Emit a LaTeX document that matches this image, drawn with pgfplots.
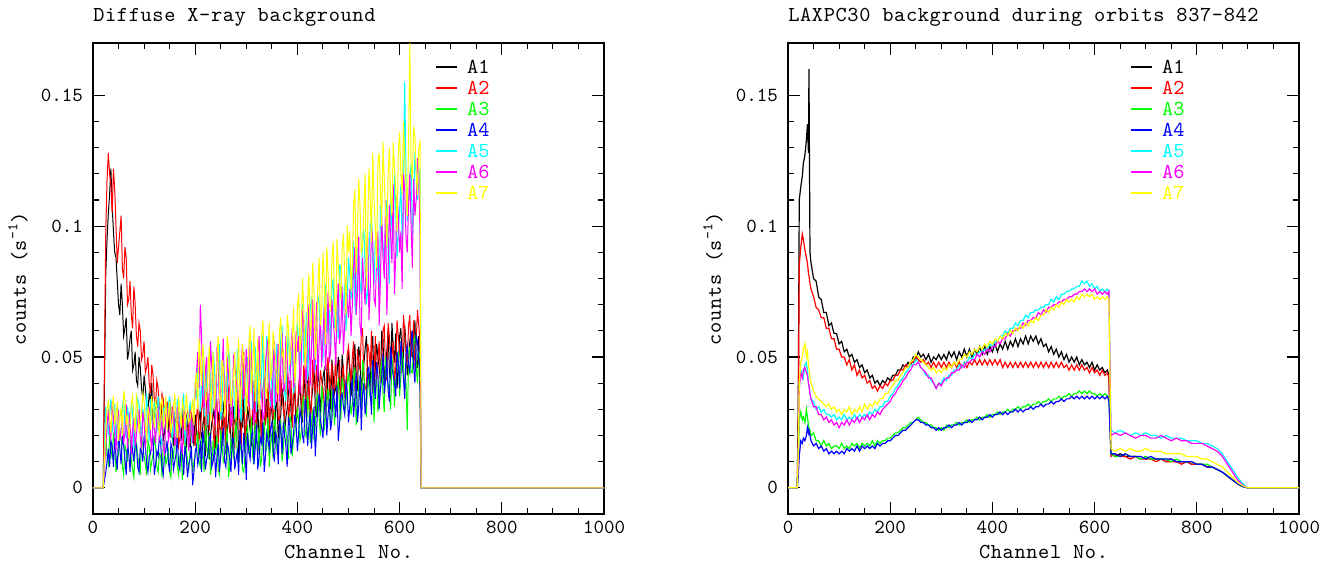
\documentclass[border=0pt]{standalone}
\usepackage{fontspec}
\usepackage{pgfplots}
\usepackage{pgfplotstable}
\pgfplotsset{compat=1.18}
\newfontfamily\hfont{lmmono10-regular.otf}[LetterSpace=3]
\newfontfamily\tfont{lmmono10-regular.otf}
\definecolor{cA}{rgb}{0,0,0}
\definecolor{cB}{rgb}{1,0,0}
\definecolor{cC}{rgb}{0,1,0}
\definecolor{cD}{rgb}{0,0,1}
\definecolor{cE}{rgb}{0,1,1}
\definecolor{cF}{rgb}{1,0,1}
\definecolor{cG}{rgb}{1,1,0}

\pgfplotstableread{
x a b c d e f g
0 0 0 0 0 0 0 0
20 0 0 0 0 0 0 0
25 0.082 0.098 0.020 0.006 0.031 0.016 0.022
27.5 0.095 0.118 0.012 0.010 0.026 0.024 0.030
30 0.105 0.128 0.009 0.015 0.020 0.030 0.033
32.5 0.112 0.120 0.019 0.008 0.029 0.021 0.027
35 0.122 0.116 0.016 0.018 0.034 0.019 0.021
37.5 0.108 0.105 0.011 0.016 0.021 0.033 0.031
40 0.098 0.122 0.021 0.008 0.026 0.026 0.035
42.5 0.090 0.114 0.017 0.019 0.032 0.020 0.024
45 0.088 0.100 0.006 0.012 0.016 0.014 0.028
47.5 0.079 0.086 0.010 0.007 0.024 0.027 0.033
50 0.070 0.092 0.013 0.021 0.030 0.029 0.018
52.5 0.066 0.098 0.022 0.015 0.018 0.018 0.026
55 0.078 0.104 0.019 0.009 0.022 0.022 0.031
57.5 0.070 0.084 0.008 0.020 0.030 0.028 0.020
60 0.058 0.080 0.005 0.016 0.035 0.017 0.037
62.5 0.061 0.092 0.016 0.011 0.023 0.021 0.034
65 0.065 0.088 0.014 0.005 0.019 0.032 0.024
67.5 0.049 0.070 0.010 0.017 0.031 0.015 0.028
70 0.052 0.072 0.022 0.013 0.027 0.024 0.019
72.5 0.057 0.079 0.019 0.006 0.020 0.029 0.023
75 0.060 0.066 0.011 0.019 0.033 0.013 0.032
77.5 0.045 0.061 0.007 0.014 0.029 0.022 0.035
80 0.047 0.077 0.004 0.010 0.015 0.027 0.027
82.5 0.052 0.070 0.015 0.018 0.021 0.016 0.021
85 0.041 0.058 0.017 0.016 0.025 0.020 0.036
87.5 0.039 0.054 0.012 0.008 0.034 0.026 0.030
90 0.050 0.063 0.009 0.006 0.032 0.030 0.021
92.5 0.046 0.060 0.005 0.015 0.024 0.019 0.026
95 0.038 0.049 0.020 0.014 0.020 0.015 0.029
97.5 0.034 0.051 0.016 0.010 0.030 0.029 0.036
100 0.043 0.056 0.012 0.020 0.028 0.025 0.033
102.5 0.038 0.044 0.009 0.016 0.017 0.016 0.024
105 0.032 0.046 0.005 0.009 0.036 0.019 0.018
107.5 0.029 0.050 0.018 0.006 0.027 0.024 0.031
110 0.036 0.040 0.016 0.012 0.018 0.031 0.028
112.5 0.033 0.036 0.007 0.013 0.034 0.020 0.022
115 0.040 0.047 0.010 0.017 0.026 0.014 0.035
117.5 0.026 0.043 0.013 0.019 0.022 0.027 0.029
120 0.027 0.034 0.019 0.005 0.033 0.023 0.023
122.5 0.031 0.032 0.016 0.009 0.028 0.017 0.034
125 0.033 0.041 0.008 0.014 0.021 0.028 0.030
127.5 0.023 0.038 0.006 0.012 0.035 0.030 0.025
130 0.024 0.030 0.013 0.020 0.029 0.018 0.020
132.5 0.028 0.026 0.012 0.017 0.019 0.022 0.032
135 0.031 0.036 0.004 0.008 0.016 0.026 0.034
137.5 0.018 0.034 0.017 0.005 0.030 0.016 0.023
140 0.021 0.027 0.018 0.013 0.031 0.012 0.027
142.5 0.026 0.025 0.009 0.014 0.023 0.028 0.035
145 0.029 0.033 0.011 0.018 0.024 0.030 0.022
147.5 0.021 0.029 0.014 0.010 0.032 0.018 0.028
150 0.034 0.024 0.006 0.006 0.035 0.021 0.033
152.5 0.027 0.019 0.004 0.017 0.022 0.024 0.021
155 0.020 0.031 0.015 0.015 0.019 0.027 0.025
157.5 0.016 0.027 0.011 0.007 0.030 0.032 0.031
160 0.027 0.022 0.020 0.010 0.027 0.016 0.036
162.5 0.024 0.024 0.016 0.013 0.020 0.019 0.026
165 0.017 0.028 0.008 0.019 0.034 0.031 0.019
167.5 0.029 0.016 0.005 0.009 0.031 0.026 0.035
170 0.025 0.019 0.012 0.007 0.022 0.022 0.029
172.5 0.018 0.024 0.014 0.017 0.025 0.017 0.023
175 0.031 0.026 0.003 0.013 0.030 0.013 0.033
177.5 0.023 0.018 0.009 0.005 0.036 0.030 0.030
180 0.019 0.021 0.017 0.016 0.017 0.027 0.022
182.5 0.014 0.027 0.015 0.012 0.022 0.023 0.036
185 0.026 0.029 0.010 0.004 0.028 0.020 0.031
187.5 0.027 0.020 0.007 0.009 0.027 0.014 0.025
190 0.015 0.018 0.014 0.011 0.033 0.030 0.026
192.5 0.020 0.029 0.013 0.016 0.018 0.025 0.030
195 0.023 0.025 0.006 0.001 0.020 0.017 0.034
197.5 0.016 0.021 0.010 0.006 0.032 0.029 0.024
200 0.028 0.016 0.012 0.014 0.038 0.036 0.040
202.5 0.022 0.027 0.015 0.016 0.034 0.044 0.044
205 0.017 0.032 0.021 0.009 0.046 0.052 0.030
207.5 0.026 0.018 0.010 0.012 0.052 0.038 0.057
210 0.030 0.022 0.008 0.018 0.029 0.070 0.048
212.5 0.014 0.029 0.019 0.006 0.038 0.058 0.039
215 0.024 0.036 0.015 0.022 0.050 0.034 0.055
217.5 0.029 0.024 0.006 0.016 0.027 0.030 0.048
220 0.012 0.019 0.024 0.007 0.036 0.045 0.033
222.5 0.020 0.037 0.017 0.011 0.046 0.050 0.034
225 0.034 0.028 0.011 0.013 0.024 0.028 0.044
227.5 0.011 0.022 0.021 0.019 0.032 0.036 0.054
230 0.020 0.040 0.005 0.020 0.044 0.056 0.026
232.5 0.025 0.030 0.009 0.008 0.028 0.046 0.040
235 0.027 0.023 0.018 0.010 0.052 0.040 0.052
237.5 0.031 0.015 0.014 0.015 0.047 0.032 0.030
240 0.015 0.031 0.013 0.004 0.031 0.024 0.038
242.5 0.019 0.034 0.020 0.012 0.039 0.054 0.050
245 0.029 0.017 0.007 0.017 0.040 0.049 0.058
247.5 0.024 0.026 0.005 0.006 0.055 0.028 0.036
250 0.021 0.035 0.022 0.012 0.026 0.036 0.029
252.5 0.016 0.019 0.016 0.018 0.030 0.045 0.049
255 0.033 0.024 0.010 0.023 0.048 0.057 0.046
257.5 0.028 0.030 0.012 0.010 0.043 0.033 0.027
260 0.013 0.014 0.017 0.008 0.037 0.030 0.036
262.5 0.021 0.041 0.023 0.017 0.035 0.050 0.058
265 0.026 0.038 0.004 0.015 0.054 0.044 0.054
267.5 0.032 0.021 0.008 0.011 0.049 0.037 0.044
270 0.018 0.027 0.019 0.006 0.029 0.023 0.031
272.5 0.015 0.033 0.015 0.019 0.038 0.027 0.035
275 0.031 0.020 0.012 0.019 0.042 0.051 0.043
277.5 0.025 0.015 0.021 0.007 0.026 0.048 0.052
280 0.022 0.045 0.025 0.011 0.034 0.038 0.025
282.5 0.034 0.038 0.011 0.014 0.052 0.042 0.041
285 0.011 0.029 0.009 0.005 0.050 0.027 0.057
287.5 0.019 0.023 0.017 0.022 0.033 0.031 0.030
290 0.028 0.016 0.014 0.016 0.025 0.047 0.039
292.5 0.023 0.034 0.007 0.009 0.045 0.055 0.055
295 0.035 0.052 0.006 0.021 0.039 0.034 0.048
297.5 0.013 0.019 0.013 0.014 0.029 0.039 0.043
300 0.019 0.024 0.020 0.003 0.046 0.053 0.028
302.5 0.031 0.040 0.024 0.021 0.050 0.043 0.038
305 0.027 0.034 0.013 0.014 0.032 0.031 0.055
307.5 0.022 0.027 0.017 0.011 0.040 0.056 0.062
310 0.016 0.020 0.027 0.020 0.056 0.050 0.036
312.5 0.028 0.032 0.012 0.022 0.030 0.035 0.047
315 0.034 0.041 0.009 0.009 0.040 0.024 0.061
317.5 0.018 0.022 0.025 0.015 0.054 0.029 0.033
320 0.021 0.026 0.018 0.024 0.029 0.045 0.042
322.5 0.033 0.044 0.015 0.007 0.045 0.051 0.057
325 0.013 0.036 0.023 0.012 0.051 0.058 0.030
327.5 0.026 0.028 0.008 0.019 0.034 0.040 0.044
330 0.030 0.018 0.011 0.017 0.044 0.035 0.058
332.5 0.016 0.037 0.022 0.025 0.059 0.026 0.064
335 0.024 0.043 0.026 0.006 0.033 0.028 0.049
337.5 0.029 0.024 0.014 0.012 0.039 0.048 0.038
340 0.036 0.029 0.015 0.021 0.058 0.052 0.034
342.5 0.024 0.040 0.027 0.018 0.048 0.057 0.052
345 0.019 0.022 0.008 0.015 0.038 0.040 0.063
347.5 0.035 0.033 0.017 0.023 0.031 0.035 0.041
350 0.029 0.038 0.021 0.025 0.047 0.030 0.045
352.5 0.023 0.026 0.011 0.014 0.053 0.046 0.060
355 0.017 0.031 0.029 0.010 0.030 0.056 0.054
357.5 0.031 0.039 0.024 0.021 0.045 0.032 0.049
360 0.033 0.045 0.014 0.019 0.055 0.044 0.037
362.5 0.019 0.027 0.016 0.009 0.036 0.055 0.036
365 0.025 0.024 0.019 0.026 0.041 0.033 0.060
367.5 0.028 0.043 0.026 0.022 0.057 0.047 0.065
370 0.038 0.035 0.010 0.013 0.062 0.059 0.050
372.5 0.034 0.030 0.015 0.025 0.043 0.037 0.052
375 0.021 0.027 0.024 0.020 0.036 0.038 0.041
377.5 0.027 0.037 0.022 0.016 0.033 0.058 0.043
380 0.030 0.044 0.016 0.008 0.050 0.049 0.066
382.5 0.036 0.025 0.011 0.027 0.061 0.041 0.061
385 0.041 0.032 0.028 0.024 0.045 0.036 0.047
387.5 0.029 0.041 0.025 0.013 0.047 0.054 0.053
390 0.024 0.023 0.012 0.017 0.059 0.061 0.058
392.5 0.039 0.035 0.019 0.021 0.036 0.038 0.069
395 0.034 0.040 0.021 0.028 0.039 0.042 0.040
397.5 0.025 0.028 0.027 0.024 0.056 0.060 0.048
400 0.028 0.030 0.030 0.014 0.063 0.052 0.069
402.5 0.035 0.039 0.025 0.021 0.054 0.058 0.074
405 0.040 0.046 0.018 0.030 0.046 0.036 0.052
407.5 0.030 0.034 0.021 0.027 0.061 0.047 0.058
410 0.025 0.028 0.032 0.020 0.070 0.068 0.080
412.5 0.044 0.047 0.035 0.017 0.048 0.062 0.068
415 0.036 0.042 0.022 0.034 0.052 0.046 0.046
417.5 0.028 0.026 0.019 0.030 0.067 0.040 0.054
420 0.045 0.033 0.035 0.016 0.041 0.060 0.071
422.5 0.039 0.043 0.031 0.024 0.055 0.070 0.082
425 0.027 0.024 0.017 0.029 0.068 0.039 0.058
427.5 0.033 0.031 0.025 0.015 0.073 0.052 0.063
430 0.038 0.049 0.030 0.024 0.058 0.072 0.086
432.5 0.046 0.040 0.018 0.031 0.050 0.044 0.075
435 0.031 0.037 0.024 0.012 0.045 0.050 0.049
437.5 0.027 0.047 0.033 0.022 0.062 0.071 0.057
440 0.046 0.030 0.036 0.032 0.074 0.041 0.077
442.5 0.040 0.033 0.027 0.036 0.070 0.055 0.088
445 0.029 0.045 0.020 0.026 0.060 0.066 0.062
447.5 0.036 0.041 0.039 0.023 0.051 0.046 0.067
450 0.042 0.038 0.033 0.019 0.049 0.058 0.090
452.5 0.045 0.032 0.022 0.030 0.072 0.069 0.079
455 0.035 0.027 0.027 0.036 0.078 0.045 0.055
457.5 0.031 0.046 0.034 0.020 0.059 0.055 0.092
460 0.048 0.050 0.038 0.028 0.063 0.075 0.082
462.5 0.041 0.037 0.029 0.034 0.068 0.048 0.070
465 0.030 0.041 0.023 0.022 0.052 0.052 0.068
467.5 0.049 0.048 0.037 0.026 0.076 0.072 0.087
470 0.043 0.033 0.036 0.038 0.080 0.064 0.094
472.5 0.036 0.040 0.024 0.033 0.061 0.058 0.073
475 0.038 0.052 0.030 0.027 0.066 0.047 0.060
477.5 0.044 0.029 0.038 0.039 0.070 0.068 0.095
480 0.050 0.039 0.041 0.018 0.057 0.078 0.085
482.5 0.040 0.049 0.031 0.024 0.085 0.055 0.078
485 0.032 0.030 0.026 0.035 0.084 0.060 0.072
487.5 0.051 0.042 0.042 0.036 0.064 0.077 0.091
490 0.045 0.047 0.039 0.031 0.069 0.051 0.097
492.5 0.037 0.035 0.028 0.028 0.078 0.062 0.082
495 0.039 0.036 0.032 0.040 0.060 0.080 0.066
497.5 0.047 0.051 0.040 0.037 0.071 0.071 0.100
500 0.052 0.054 0.044 0.025 0.088 0.065 0.090
502.5 0.044 0.047 0.036 0.031 0.082 0.076 0.098
505 0.035 0.040 0.028 0.038 0.072 0.058 0.075
507.5 0.040 0.050 0.032 0.042 0.080 0.070 0.085
510 0.049 0.056 0.042 0.027 0.094 0.084 0.108
512.5 0.055 0.038 0.046 0.035 0.070 0.092 0.114
515 0.040 0.034 0.024 0.044 0.066 0.066 0.082
517.5 0.037 0.053 0.030 0.025 0.092 0.074 0.096
520 0.054 0.048 0.040 0.031 0.085 0.096 0.118
522.5 0.050 0.045 0.037 0.043 0.079 0.062 0.108
525 0.036 0.058 0.030 0.022 0.074 0.058 0.090
527.5 0.043 0.061 0.049 0.036 0.096 0.088 0.092
530 0.047 0.042 0.046 0.040 0.099 0.078 0.106
532.5 0.053 0.039 0.032 0.028 0.084 0.070 0.120
535 0.058 0.037 0.027 0.033 0.070 0.090 0.076
537.5 0.045 0.055 0.043 0.045 0.075 0.098 0.100
540 0.041 0.052 0.038 0.046 0.088 0.064 0.122
542.5 0.039 0.046 0.034 0.037 0.100 0.076 0.112
545 0.052 0.060 0.044 0.028 0.104 0.100 0.094
547.5 0.058 0.036 0.047 0.049 0.086 0.094 0.128
550 0.038 0.044 0.025 0.039 0.078 0.072 0.110
552.5 0.046 0.058 0.038 0.034 0.095 0.070 0.100
555 0.055 0.039 0.041 0.048 0.095 0.088 0.084
557.5 0.050 0.049 0.029 0.044 0.082 0.098 0.124
560 0.046 0.056 0.033 0.030 0.072 0.062 0.128
562.5 0.041 0.040 0.045 0.038 0.108 0.080 0.114
565 0.060 0.047 0.048 0.042 0.102 0.104 0.100
567.5 0.057 0.060 0.036 0.051 0.093 0.088 0.132
570 0.039 0.062 0.029 0.036 0.086 0.080 0.118
572.5 0.047 0.045 0.050 0.041 0.101 0.110 0.106
575 0.052 0.041 0.043 0.050 0.110 0.066 0.092
577.5 0.060 0.063 0.040 0.037 0.090 0.082 0.120
580 0.044 0.058 0.036 0.033 0.078 0.108 0.130
582.5 0.042 0.048 0.030 0.054 0.114 0.096 0.110
585 0.063 0.050 0.050 0.046 0.098 0.086 0.104
587.5 0.054 0.056 0.045 0.043 0.096 0.116 0.132
590 0.048 0.040 0.031 0.040 0.120 0.074 0.122
592.5 0.059 0.046 0.041 0.035 0.106 0.090 0.114
595 0.038 0.064 0.046 0.052 0.088 0.112 0.098
597.5 0.046 0.058 0.052 0.048 0.098 0.104 0.128
600 0.058 0.052 0.035 0.038 0.106 0.090 0.136
602.5 0.061 0.048 0.042 0.056 0.116 0.098 0.120
605 0.047 0.044 0.052 0.048 0.094 0.076 0.112
607.5 0.050 0.066 0.048 0.042 0.104 0.120 0.140
610 0.062 0.060 0.038 0.034 0.155 0.114 0.126
612.5 0.055 0.052 0.040 0.051 0.120 0.096 0.116
615 0.043 0.048 0.022 0.054 0.102 0.090 0.104
617.5 0.048 0.062 0.050 0.047 0.110 0.108 0.132
620 0.056 0.066 0.054 0.044 0.118 0.120 0.170
622.5 0.060 0.050 0.044 0.056 0.124 0.100 0.122
625 0.050 0.054 0.044 0.060 0.096 0.084 0.118
627.5 0.052 0.064 0.056 0.046 0.108 0.118 0.138
630 0.064 0.046 0.058 0.040 0.128 0.104 0.134
632.5 0.046 0.056 0.046 0.058 0.120 0.110 0.120
635 0.046 0.068 0.040 0.056 0.110 0.126 0.112
637.5 0.058 0.062 0.052 0.048 0.116 0.120 0.130
640 0.038 0.056 0.050 0.046 0.122 0.096 0.132
642 0 0 0 0 0 0 0
1000 0 0 0 0 0 0 0
}\lefttab

\pgfplotstableread{
x a b c d e f g
0 0 0 0 0 0 0 0
18 0 0 0 0 0 0 0
20 0.030 0.020 0.010 0.004 0.012 0.010 0.012
22 0.110 0.085 0.026 0.012 0.040 0.038 0.040
25 0.115 0.092 0.029 0.018 0.045 0.044 0.048
28 0.119 0.097 0.026 0.017 0.043 0.042 0.050
30 0.124 0.095 0.027 0.019 0.042 0.045 0.053
33 0.127 0.091 0.025 0.018 0.047 0.046 0.055
36 0.133 0.088 0.030 0.020 0.048 0.044 0.050
38 0.139 0.086 0.027 0.023 0.045 0.043 0.052
40 0.128 0.082 0.024 0.021 0.040 0.040 0.047
41 0.160 0.081 0.023 0.022 0.039 0.039 0.046
43 0.090 0.078 0.022 0.020 0.036 0.036 0.042
45 0.086 0.076 0.020 0.018 0.034 0.034 0.040
50 0.080 0.073 0.021 0.016 0.033 0.031 0.037
55 0.079 0.069 0.018 0.017 0.030 0.031 0.035
60 0.073 0.068 0.018 0.015 0.031 0.028 0.034
65 0.072 0.065 0.016 0.016 0.029 0.028 0.033
70 0.067 0.065 0.018 0.014 0.030 0.026 0.032
75 0.067 0.061 0.016 0.015 0.028 0.027 0.031
80 0.062 0.061 0.017 0.013 0.028 0.025 0.032
85 0.063 0.057 0.015 0.014 0.027 0.026 0.030
90 0.059 0.057 0.016 0.013 0.028 0.024 0.031
95 0.059 0.053 0.016 0.014 0.026 0.025 0.029
100 0.055 0.053 0.015 0.013 0.027 0.023 0.030
105 0.056 0.050 0.017 0.014 0.026 0.025 0.028
110 0.052 0.050 0.015 0.013 0.028 0.024 0.030
115 0.053 0.047 0.016 0.015 0.026 0.026 0.029
120 0.050 0.049 0.015 0.014 0.027 0.024 0.031
125 0.051 0.045 0.017 0.015 0.026 0.026 0.028
130 0.048 0.047 0.016 0.014 0.028 0.025 0.030
135 0.049 0.043 0.017 0.016 0.026 0.027 0.029
140 0.046 0.045 0.015 0.014 0.028 0.025 0.031
145 0.047 0.042 0.017 0.016 0.027 0.027 0.029
150 0.044 0.043 0.016 0.015 0.028 0.026 0.032
155 0.045 0.040 0.017 0.016 0.027 0.028 0.030
160 0.042 0.041 0.016 0.015 0.029 0.026 0.032
165 0.043 0.038 0.018 0.016 0.028 0.028 0.031
170 0.040 0.039 0.016 0.015 0.030 0.027 0.033
175 0.041 0.037 0.018 0.017 0.029 0.029 0.032
180 0.039 0.039 0.017 0.016 0.031 0.028 0.034
185 0.041 0.038 0.018 0.017 0.031 0.030 0.034
190 0.040 0.040 0.018 0.017 0.033 0.031 0.036
195 0.042 0.039 0.019 0.018 0.033 0.032 0.036
200 0.041 0.041 0.019 0.018 0.035 0.033 0.038
205 0.043 0.041 0.020 0.019 0.036 0.035 0.039
210 0.043 0.043 0.021 0.020 0.038 0.036 0.041
215 0.045 0.043 0.021 0.020 0.039 0.038 0.041
220 0.045 0.045 0.022 0.021 0.041 0.039 0.043
225 0.047 0.045 0.023 0.022 0.042 0.041 0.044
230 0.046 0.047 0.023 0.022 0.044 0.042 0.046
235 0.048 0.046 0.024 0.023 0.045 0.044 0.046
240 0.047 0.048 0.025 0.024 0.047 0.045 0.048
245 0.050 0.048 0.025 0.025 0.047 0.047 0.049
250 0.049 0.050 0.026 0.026 0.049 0.047 0.051
255 0.052 0.049 0.027 0.026 0.048 0.048 0.050
260 0.050 0.048 0.026 0.025 0.046 0.046 0.049
265 0.051 0.049 0.025 0.025 0.045 0.045 0.048
270 0.049 0.047 0.025 0.024 0.043 0.044 0.047
275 0.051 0.048 0.024 0.024 0.043 0.042 0.046
280 0.048 0.046 0.024 0.023 0.041 0.042 0.045
285 0.050 0.048 0.023 0.023 0.040 0.040 0.046
290 0.049 0.046 0.023 0.022 0.038 0.038 0.044
295 0.051 0.048 0.022 0.023 0.040 0.040 0.045
300 0.049 0.046 0.023 0.022 0.040 0.039 0.044
305 0.051 0.048 0.022 0.023 0.042 0.041 0.046
310 0.049 0.046 0.024 0.023 0.041 0.042 0.045
315 0.052 0.048 0.023 0.024 0.043 0.042 0.047
320 0.050 0.046 0.024 0.023 0.043 0.044 0.046
325 0.052 0.048 0.024 0.024 0.045 0.044 0.048
330 0.049 0.046 0.025 0.024 0.045 0.045 0.047
335 0.052 0.048 0.024 0.025 0.047 0.045 0.049
340 0.050 0.046 0.025 0.024 0.046 0.047 0.049
345 0.053 0.048 0.025 0.025 0.048 0.046 0.051
350 0.050 0.046 0.026 0.025 0.048 0.048 0.050
355 0.053 0.048 0.025 0.026 0.050 0.048 0.052
360 0.050 0.047 0.026 0.025 0.049 0.049 0.051
365 0.053 0.049 0.026 0.026 0.051 0.049 0.053
370 0.051 0.047 0.027 0.026 0.051 0.051 0.052
375 0.054 0.049 0.026 0.027 0.052 0.050 0.054
380 0.051 0.047 0.027 0.026 0.052 0.052 0.053
385 0.054 0.049 0.027 0.027 0.053 0.051 0.055
390 0.051 0.047 0.028 0.027 0.053 0.053 0.054
395 0.054 0.049 0.027 0.028 0.055 0.052 0.056
400 0.052 0.047 0.028 0.027 0.054 0.054 0.055
405 0.055 0.049 0.028 0.028 0.056 0.054 0.057
410 0.052 0.047 0.029 0.028 0.056 0.056 0.056
415 0.055 0.049 0.028 0.029 0.058 0.055 0.058
420 0.053 0.046 0.029 0.028 0.058 0.057 0.057
425 0.056 0.048 0.029 0.029 0.060 0.057 0.059
430 0.053 0.046 0.030 0.028 0.059 0.059 0.058
435 0.056 0.048 0.029 0.029 0.061 0.058 0.060
440 0.054 0.046 0.030 0.029 0.061 0.060 0.059
445 0.057 0.048 0.030 0.030 0.063 0.060 0.061
450 0.054 0.046 0.031 0.029 0.062 0.061 0.060
455 0.057 0.048 0.030 0.030 0.064 0.061 0.062
460 0.055 0.046 0.031 0.029 0.064 0.063 0.061
465 0.058 0.048 0.031 0.030 0.066 0.062 0.063
470 0.055 0.046 0.032 0.030 0.065 0.064 0.062
475 0.058 0.048 0.031 0.031 0.067 0.064 0.064
480 0.056 0.046 0.032 0.030 0.067 0.065 0.063
485 0.058 0.048 0.032 0.031 0.068 0.065 0.065
490 0.055 0.046 0.033 0.031 0.068 0.067 0.064
495 0.057 0.048 0.032 0.032 0.069 0.066 0.066
500 0.054 0.046 0.033 0.031 0.069 0.068 0.066
505 0.055 0.048 0.033 0.032 0.070 0.067 0.068
510 0.052 0.046 0.034 0.032 0.070 0.069 0.067
515 0.054 0.048 0.033 0.033 0.072 0.069 0.069
520 0.051 0.046 0.034 0.032 0.071 0.070 0.068
525 0.053 0.048 0.034 0.033 0.073 0.070 0.070
530 0.050 0.046 0.035 0.033 0.072 0.071 0.069
535 0.052 0.048 0.034 0.034 0.074 0.071 0.071
540 0.049 0.046 0.035 0.033 0.074 0.072 0.070
545 0.051 0.047 0.035 0.034 0.075 0.072 0.072
550 0.048 0.045 0.036 0.034 0.075 0.073 0.071
555 0.050 0.047 0.035 0.035 0.076 0.073 0.072
560 0.048 0.045 0.036 0.034 0.076 0.074 0.071
565 0.050 0.047 0.036 0.035 0.077 0.074 0.073
570 0.047 0.045 0.037 0.034 0.077 0.075 0.072
575 0.049 0.047 0.036 0.035 0.079 0.075 0.074
580 0.047 0.045 0.037 0.034 0.078 0.076 0.073
585 0.048 0.046 0.036 0.035 0.079 0.075 0.074
590 0.046 0.044 0.037 0.034 0.077 0.076 0.073
595 0.048 0.046 0.036 0.035 0.078 0.075 0.074
600 0.045 0.044 0.036 0.034 0.076 0.076 0.072
605 0.047 0.045 0.035 0.035 0.077 0.074 0.073
610 0.045 0.043 0.036 0.034 0.075 0.075 0.072
615 0.046 0.045 0.035 0.035 0.076 0.074 0.073
620 0.044 0.043 0.036 0.034 0.075 0.075 0.072
625 0.045 0.044 0.035 0.035 0.076 0.074 0.073
628 0.043 0.042 0.035 0.033 0.075 0.075 0.072
632 0.013 0.012 0.013 0.013 0.022 0.020 0.015
640 0.012 0.013 0.012 0.013 0.021 0.021 0.014
650 0.013 0.012 0.012 0.012 0.022 0.020 0.015
660 0.012 0.012 0.013 0.013 0.021 0.021 0.014
670 0.012 0.011 0.012 0.012 0.020 0.020 0.015
680 0.012 0.012 0.012 0.012 0.021 0.019 0.014
690 0.011 0.011 0.011 0.012 0.020 0.020 0.014
700 0.012 0.011 0.012 0.011 0.021 0.020 0.015
710 0.011 0.011 0.011 0.012 0.020 0.019 0.014
720 0.011 0.010 0.011 0.011 0.020 0.019 0.014
730 0.011 0.011 0.011 0.011 0.019 0.020 0.014
740 0.010 0.010 0.011 0.011 0.020 0.019 0.013
750 0.011 0.010 0.010 0.011 0.019 0.018 0.013
760 0.010 0.010 0.011 0.010 0.019 0.019 0.013
770 0.010 0.009 0.010 0.010 0.019 0.018 0.013
780 0.010 0.010 0.010 0.010 0.018 0.018 0.012
790 0.009 0.009 0.010 0.010 0.018 0.017 0.012
800 0.009 0.009 0.009 0.009 0.018 0.017 0.012
810 0.009 0.009 0.009 0.009 0.017 0.017 0.011
820 0.008 0.008 0.009 0.008 0.017 0.016 0.011
830 0.008 0.008 0.008 0.008 0.016 0.015 0.010
840 0.007 0.007 0.007 0.007 0.015 0.014 0.009
850 0.006 0.006 0.006 0.006 0.013 0.012 0.008
860 0.0045 0.0045 0.0045 0.0045 0.010 0.009 0.006
870 0.003 0.003 0.003 0.003 0.007 0.006 0.004
880 0.0015 0.0015 0.0015 0.0015 0.004 0.003 0.002
890 0.0005 0.0005 0.0005 0.0005 0.0015 0.001 0.0008
900 0 0 0 0 0 0 0
1000 0 0 0 0 0 0 0
}\righttab

\pgfplotsset{
  every axis title shift=0pt,
  panel/.style={
    scale only axis, width=383.25pt, height=353.25pt,
    anchor=south west,
    xmin=0, xmax=1000, ymin=-0.01, ymax=0.17,
    xtick={0,200,400,600,800,1000}, xticklabels={0,200,400,600,800,1000},
    ytick={0,0.05,0.1,0.15}, yticklabels={0,0.05,0.1,0.15},
    minor x tick num=3, minor y tick num=4,
    tick align=inside, xtick pos=both, ytick pos=both,
    xticklabel pos=lower, yticklabel pos=left,
    major tick length=9pt, minor tick length=4.5pt,
    axis line style={line width=1.3pt},
    every tick/.style={black, line width=0.8pt},
    ticklabel style={font=\tfont\fontsize{15}{15}\selectfont},
    xticklabel style={yshift=-2pt},
    yticklabel style={xshift=-4pt},
    label style={font=\hfont\fontsize{16}{16}\selectfont},
    xlabel={Channel No.},
    ylabel={counts (s\textsuperscript{-1})},
    xlabel style={at={(axis description cs:0.5,-0.081)}, anchor=center},
    ylabel style={at={(axis description cs:-0.147,0.5)}, anchor=center},
    title style={at={(axis description cs:0,1.055)}, anchor=west, yshift=0pt, inner sep=0pt, font=\hfont\fontsize{16}{16}\selectfont},
    legend image code/.code={\draw[##1, line width=1.15pt] (-1pt,0pt) -- (15pt,0pt);},
    legend style={at={(axis description cs:0.669,0.971)}, anchor=north west,
      draw=none, fill=none, inner sep=0pt, outer sep=0pt,
      row sep=0pt, column sep=7pt,
      font=\tfont\fontsize{16}{16}\selectfont,
      nodes={inner sep=0pt, text height=12.3pt, text depth=3.45pt}},
    legend cell align=left,
  }
}

\begin{document}
\begin{tikzpicture}
\useasboundingbox (0pt,0pt) rectangle (1008pt,426.75pt);
\begin{axis}[panel, at={(69.75pt,41.25pt)}, title={Diffuse X-ray background},
  every axis plot/.append style={line width=0.75pt}]
\addplot[cA] table[x=x,y=a]{\lefttab};
\addlegendentry{\textcolor{cA}{A1}}
\addplot[cB] table[x=x,y=b]{\lefttab};
\addlegendentry{\textcolor{cB}{A2}}
\addplot[cC] table[x=x,y=c]{\lefttab};
\addlegendentry{\textcolor{cC}{A3}}
\addplot[cD] table[x=x,y=d]{\lefttab};
\addlegendentry{\textcolor{cD}{A4}}
\addplot[cE] table[x=x,y=e]{\lefttab};
\addlegendentry{\textcolor{cE}{A5}}
\addplot[cF] table[x=x,y=f]{\lefttab};
\addlegendentry{\textcolor{cF}{A6}}
\addplot[cG] table[x=x,y=g]{\lefttab};
\addlegendentry{\textcolor{cG}{A7}}
\end{axis}
\begin{axis}[panel, at={(591pt,41.25pt)}, title={LAXPC30 background during orbits 837-842},
  every axis plot/.append style={line width=0.9pt}]
\addplot[cA] table[x=x,y=a]{\righttab};
\addlegendentry{\textcolor{cA}{A1}}
\addplot[cB] table[x=x,y=b]{\righttab};
\addlegendentry{\textcolor{cB}{A2}}
\addplot[cC] table[x=x,y=c]{\righttab};
\addlegendentry{\textcolor{cC}{A3}}
\addplot[cD] table[x=x,y=d]{\righttab};
\addlegendentry{\textcolor{cD}{A4}}
\addplot[cE] table[x=x,y=e]{\righttab};
\addlegendentry{\textcolor{cE}{A5}}
\addplot[cF] table[x=x,y=f]{\righttab};
\addlegendentry{\textcolor{cF}{A6}}
\addplot[cG] table[x=x,y=g]{\righttab};
\addlegendentry{\textcolor{cG}{A7}}
\end{axis}
\end{tikzpicture}
\end{document}
